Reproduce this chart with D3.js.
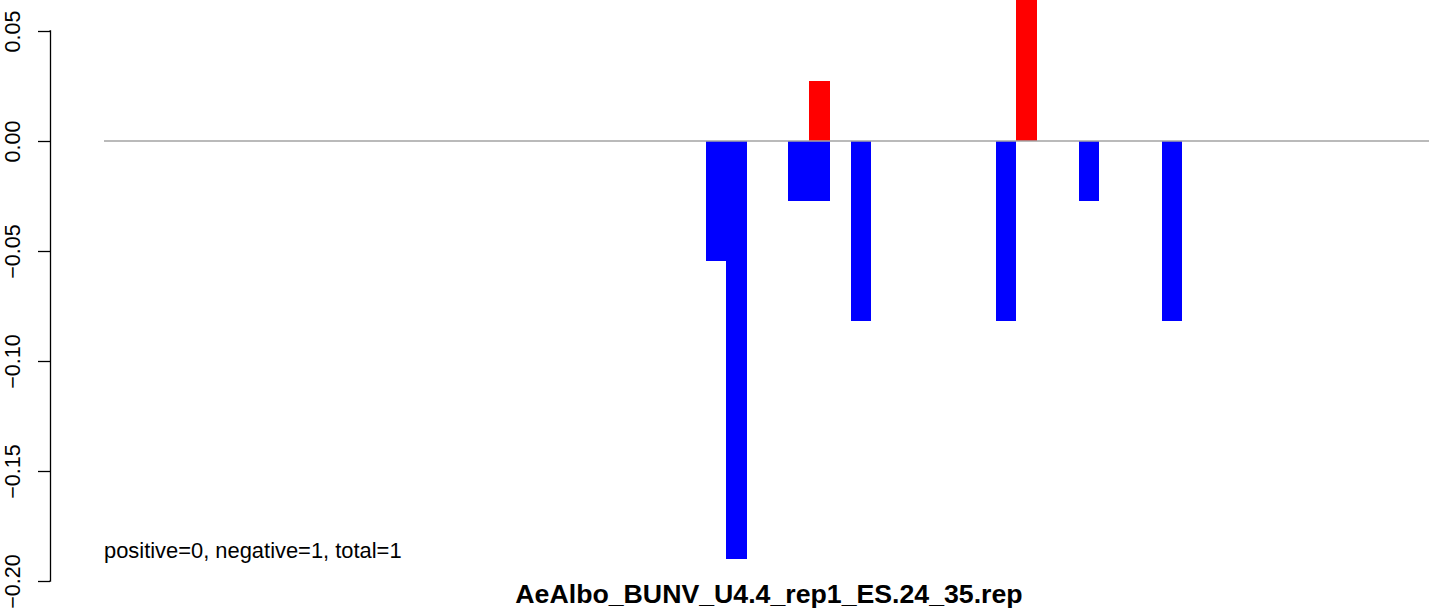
<!DOCTYPE html>
<html>
<head>
<meta charset="utf-8">
<script src="https://cdn.jsdelivr.net/npm/d3@7"></script>
<style>
  html, body { margin: 0; padding: 0; background: #ffffff; }
  svg { display: block; }
  text { font-family: "Liberation Sans", Arial, Helvetica, sans-serif; fill: #000; }
</style>
</head>
<body>
<svg id="chart" width="1429" height="610"></svg>
<script>
// ---- data ----
const positions = d3.range(64);                       // bar slots (categories)
const negIndex  = [29, 30, 33, 34, 36, 43, 47, 51];   // slots with negative values
const negValues = [-0.0545, -0.190, -0.0273, -0.0273, -0.0818, -0.0818, -0.0273, -0.0818];
const posIndex  = [34, 44];                           // slots with positive values
const posValues = [0.0273, 0.0818];
const yTicks    = [0.05, 0.00, -0.05, -0.10, -0.15, -0.20];
const yTickLabels = ["0.05", "0.00", "\u22120.05", "\u22120.10", "\u22120.15", "\u22120.20"];
const title     = "AeAlbo_BUNV_U4.4_rep1_ES.24_35.rep";
const note      = "positive=0, negative=1, total=1";

// ---- layout ----
const W = 1429, H = 610;
const svg = d3.select("#chart");

const slotW = 20.727;
const x = d3.scaleBand()
  .domain(positions)
  .range([104.5, 104.5 + positions.length * slotW])
  .padding(0);

const y = d3.scaleLinear()
  .domain([-0.20, 0.05])
  .range([581, 31]);

const neg = negIndex.map((p, i) => ({p, v: negValues[i]}));
const pos = posIndex.map((p, i) => ({p, v: posValues[i]}));

// bars
svg.append("g").selectAll("rect").data(neg).join("rect")
  .attr("x", d => x(d.p))
  .attr("width", x.bandwidth())
  .attr("y", y(0))
  .attr("height", d => y(d.v) - y(0))
  .attr("fill", "#0000ff")
  .attr("shape-rendering", "crispEdges");

svg.append("g").selectAll("rect").data(pos).join("rect")
  .attr("x", d => x(d.p))
  .attr("width", x.bandwidth())
  .attr("y", d => y(d.v))
  .attr("height", d => y(0) - y(d.v))
  .attr("fill", "#ff0000")
  .attr("shape-rendering", "crispEdges");

// zero line
svg.append("line")
  .attr("x1", 104).attr("x2", W)
  .attr("y1", y(0)).attr("y2", y(0))
  .attr("stroke", "#a3a3a3")
  .attr("stroke-width", 1.5);

// y axis
const axis = d3.axisLeft(y)
  .tickValues(yTicks)
  .tickSize(12)
  .tickPadding(0)
  .tickFormat((d, i) => yTickLabels[i]);

const gAxis = svg.append("g")
  .attr("transform", "translate(50,0)")
  .call(axis);
gAxis.select(".domain")
  .attr("d", `M-0.5,${y(0.05)}H0.5V${y(-0.20)}H-0.5`)
  .attr("stroke", "#000").attr("stroke-width", 1.3).attr("fill", "none");
gAxis.selectAll(".tick line").attr("stroke", "#000").attr("stroke-width", 1.3);
gAxis.selectAll(".tick text")
  .attr("x", 0).attr("dy", 0)
  .attr("transform", "translate(-30,0) rotate(-90)")
  .attr("text-anchor", "middle")
  .style("font-size", "21.5px")
  .style("font-family", "'Liberation Sans', Arial, sans-serif")
  .attr("fill", "#000");

// note text
svg.append("text")
  .attr("x", 104).attr("y", 558)
  .style("font-size", "21.9px")
  .text(note);

// title
svg.append("text")
  .attr("x", 769).attr("y", 603)
  .attr("text-anchor", "middle")
  .style("font-size", "26.7px")
  .style("font-weight", "bold")
  .text(title);
</script>
</body>
</html>
